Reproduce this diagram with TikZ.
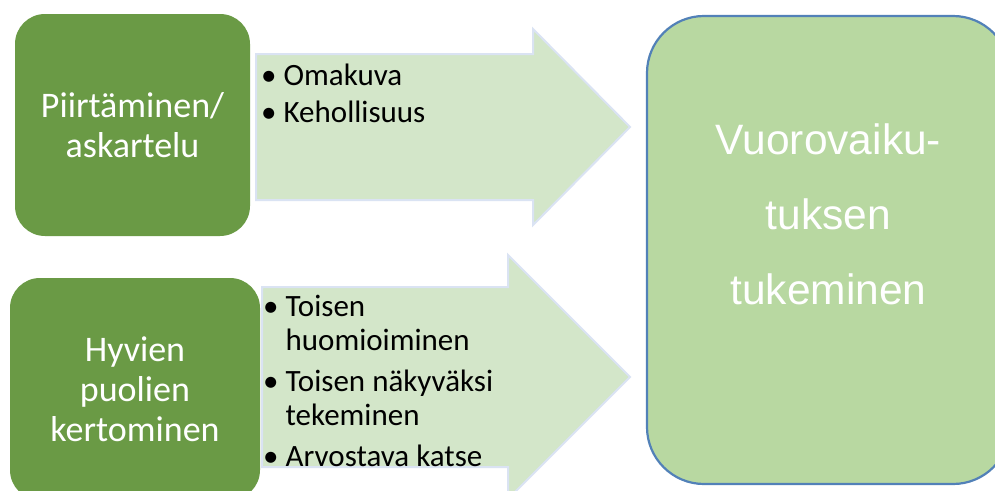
\documentclass[tikz,border=0pt]{standalone}
\usepackage{fontspec}
\setmainfont{Carlito}
\newfontfamily\arialfont{Liberation Sans}
\usetikzlibrary{calc,positioning}

\definecolor{tummavihrea}{HTML}{6A9A45}
\definecolor{nuolivihrea}{HTML}{D3E6C9}
\definecolor{nuolireuna}{HTML}{DAE3F3}
\definecolor{vaaleavihrea}{HTML}{B8D8A1}
\definecolor{sinireuna}{HTML}{5281B8}

\begin{document}
\begin{tikzpicture}[x=1pt,y=-1pt,
    tapa/.style={fill=tummavihrea, rounded corners=30pt, text=white, align=center,
        font=\fontsize{36}{40}\selectfont, inner sep=0pt},
    nuoli/.style={fill=nuolivihrea, draw=nuolireuna, line width=2pt},
    lista/.style={anchor=north west, inner sep=0pt, font=\fontsize{31}{33.5}\selectfont},
    tavoite/.style={fill=vaaleavihrea, draw=sinireuna, line width=2.2pt, rounded corners=57pt}]
\clip (0,0) rectangle (995,490);
\fill[white] (0,0) rectangle (995,490);

%% arrows
\draw[nuoli] (256,54) -- (533,54) -- (533,29) -- (630,127) -- (533,225) -- (533,200) -- (256,200) -- cycle;
\draw[nuoli] (262,287) -- (508,287) -- (508,255) -- (630,377) -- (508,499) -- (508,467) -- (262,467) -- cycle;

%% left boxes
\node[tapa, minimum width=235pt, minimum height=222pt] (piirtaminen) at (132.5,125) {Piirtäminen/\\askartelu};
\node[tapa, minimum width=250pt, minimum height=222pt] (hyvat) at (135,389) {Hyvien\\puolien\\kertominen};

%% lists in the arrows
\node[lista] (omakuva) at (261,62) {%
\begin{tabular}{@{}l@{\hspace{7pt}}l@{}}
\textbullet & Omakuva\\[3pt]
\textbullet & Kehollisuus
\end{tabular}};
\node[lista] (toinen) at (263,293) {%
\begin{tabular}{@{}l@{\hspace{7pt}}l@{}}
\textbullet & Toisen\\
 & huomioiminen\\[8pt]
\textbullet & Toisen näkyväksi\\
 & tekeminen\\[8pt]
\textbullet & Arvostava katse
\end{tabular}};

%% right box
\draw[tavoite] (647,16) rectangle (1010,484);
\node[text=white, align=center, font=\arialfont\fontsize{42.5}{75}\selectfont] (vuorovaikutus) at (828.5,214) {Vuorovaiku-\\tuksen\\tukeminen};
\end{tikzpicture}
\end{document}
